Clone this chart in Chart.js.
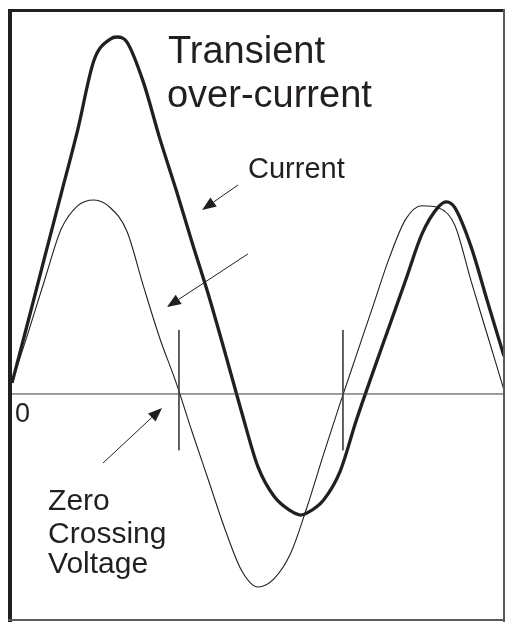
<!DOCTYPE html>
<html>
<head>
<meta charset="utf-8">
<script src="https://cdn.jsdelivr.net/npm/chart.js@4/dist/chart.umd.min.js"></script>
<style>
  html, body { margin: 0; padding: 0; background: #ffffff; }
  #wrap { width: 505px; height: 622px; position: relative; }
</style>
</head>
<body>
<div id="wrap"><canvas id="c"></canvas></div>
<script>
// Time axis (ms) sampled every 1 ms
const timeMs = [0,1,2,3,4,5,6,7,8,9,10,11,12,13,14,15,16,17,18,19,20,21,22,23,24,25,26,27,28,29,30];

// Supply voltage (thin curve), normalised
const voltage = [0.06,0.32,0.59,0.85,0.97,1.0,0.96,0.84,0.56,0.29,0.06,-0.2,-0.45,-0.7,-0.91,-0.995,-0.95,-0.82,-0.58,-0.31,-0.05,0.2,0.45,0.7,0.9,0.97,0.96,0.87,0.58,0.3,0.02];

// Transient over-current (thick curve)
const currentT = [0,1,2,3,4,5,6,6.4,7,8,9,10,11,12,13,14,15,16,17,17.6,18,19,20,21,22,23,24,25,26,26.5,27,28,29,30];
const current  = [0.057,0.38,0.708,1.033,1.359,1.72,1.83,1.84,1.815,1.61,1.32,1.054,0.776,0.505,0.21,-0.093,-0.376,-0.53,-0.603,-0.624,-0.613,-0.546,-0.40,-0.134,0.11,0.348,0.586,0.825,0.964,0.99,0.96,0.757,0.474,0.195];

// Zero-crossing marker positions (ms) and their extent
const zeroCrossings = [10.18, 20.18];
const markerExtent = [0.33, -0.29];

// Annotation arrows [fromT, fromV, toT, toV]
const arrows = [
  [13.78, 1.077, 11.59, 0.948],
  [14.39, 0.722, 9.45, 0.448],
  [5.55, -0.356, 9.15, -0.072]
];

// Labels [text, t, v, size]
const labels = [
  ["Transient", 9.51, 1.706, 38],
  ["over-current", 9.45, 1.479, 38],
  ["Current", 14.39, 1.113, 29],
  ["0", 0.18, -0.144, 27],
  ["Zero", 2.2, -0.598, 30],
  ["Crossing", 2.2, -0.768, 30],
  ["Voltage", 2.2, -0.923, 30]
];

const INK = '#231f20';

const datasets = [
  { data: [{x: timeMs[0], y: 0}, {x: timeMs[timeMs.length-1], y: 0}], borderColor: '#3a3a3a', borderWidth: 1, pointRadius: 0, tension: 0 },
  ...zeroCrossings.map(z => ({ data: [{x: z, y: markerExtent[0]}, {x: z, y: markerExtent[1]}], borderColor: '#4a4a4a', borderWidth: 1, pointRadius: 0, tension: 0 })),
  { data: timeMs.map((t, i) => ({x: t, y: voltage[i]})), borderColor: INK, borderWidth: 1.1, pointRadius: 0, cubicInterpolationMode: 'monotone' },
  { data: currentT.map((t, i) => ({x: t, y: current[i]})), borderColor: INK, borderWidth: 3.3, pointRadius: 0, cubicInterpolationMode: 'monotone' }
];

const decor = {
  id: 'decor',
  afterDatasetsDraw(chart) {
    const ctx = chart.ctx, xs = chart.scales.x, ys = chart.scales.y, a = chart.chartArea;
    ctx.save();
    // arrows
    ctx.strokeStyle = INK; ctx.fillStyle = INK; ctx.lineWidth = 1;
    arrows.forEach(([ft, fv, tt, tv]) => {
      const x1 = xs.getPixelForValue(ft), y1 = ys.getPixelForValue(fv);
      const x2 = xs.getPixelForValue(tt), y2 = ys.getPixelForValue(tv);
      const ang = Math.atan2(y2 - y1, x2 - x1);
      const L = 14, W = 5.5;
      const bx = x2 - L * Math.cos(ang), by = y2 - L * Math.sin(ang);
      ctx.beginPath(); ctx.moveTo(x1, y1); ctx.lineTo(bx, by); ctx.stroke();
      ctx.beginPath();
      ctx.moveTo(x2, y2);
      ctx.lineTo(bx + W * Math.sin(ang), by - W * Math.cos(ang));
      ctx.lineTo(bx - W * Math.sin(ang), by + W * Math.cos(ang));
      ctx.closePath(); ctx.fill();
    });
    // labels
    ctx.textBaseline = 'alphabetic'; ctx.textAlign = 'left';
    labels.forEach(([txt, t, v, size]) => {
      ctx.font = size + 'px "Liberation Sans", Arial, sans-serif';
      ctx.fillText(txt, xs.getPixelForValue(t), ys.getPixelForValue(v));
    });
    // frame
    ctx.fillStyle = INK;
    ctx.fillRect(a.left - 4, a.top - 2, a.right - a.left + 4, 3);
    ctx.fillRect(a.left - 4, a.top - 2, 4, a.bottom - a.top + 4);
    ctx.fillStyle = '#5a5a5a';
    ctx.fillRect(a.right - 1, a.top - 2, 2, a.bottom - a.top + 4);
    ctx.fillRect(a.left - 4, a.bottom - 1, a.right - a.left + 5, 2);
    ctx.restore();
  }
};

new Chart(document.getElementById('c'), {
  type: 'line',
  data: { datasets },
  options: {
    responsive: true,
    maintainAspectRatio: false,
    animation: false,
    layout: { padding: { left: 12, right: 1, top: 11, bottom: 2 } },
    plugins: { legend: { display: false }, tooltip: { enabled: false } },
    scales: {
      x: { type: 'linear', min: 0, max: 30, display: false },
      y: { type: 'linear', min: -1.165, max: 1.974, display: false }
    }
  },
  plugins: [decor]
});
</script>
</body>
</html>
